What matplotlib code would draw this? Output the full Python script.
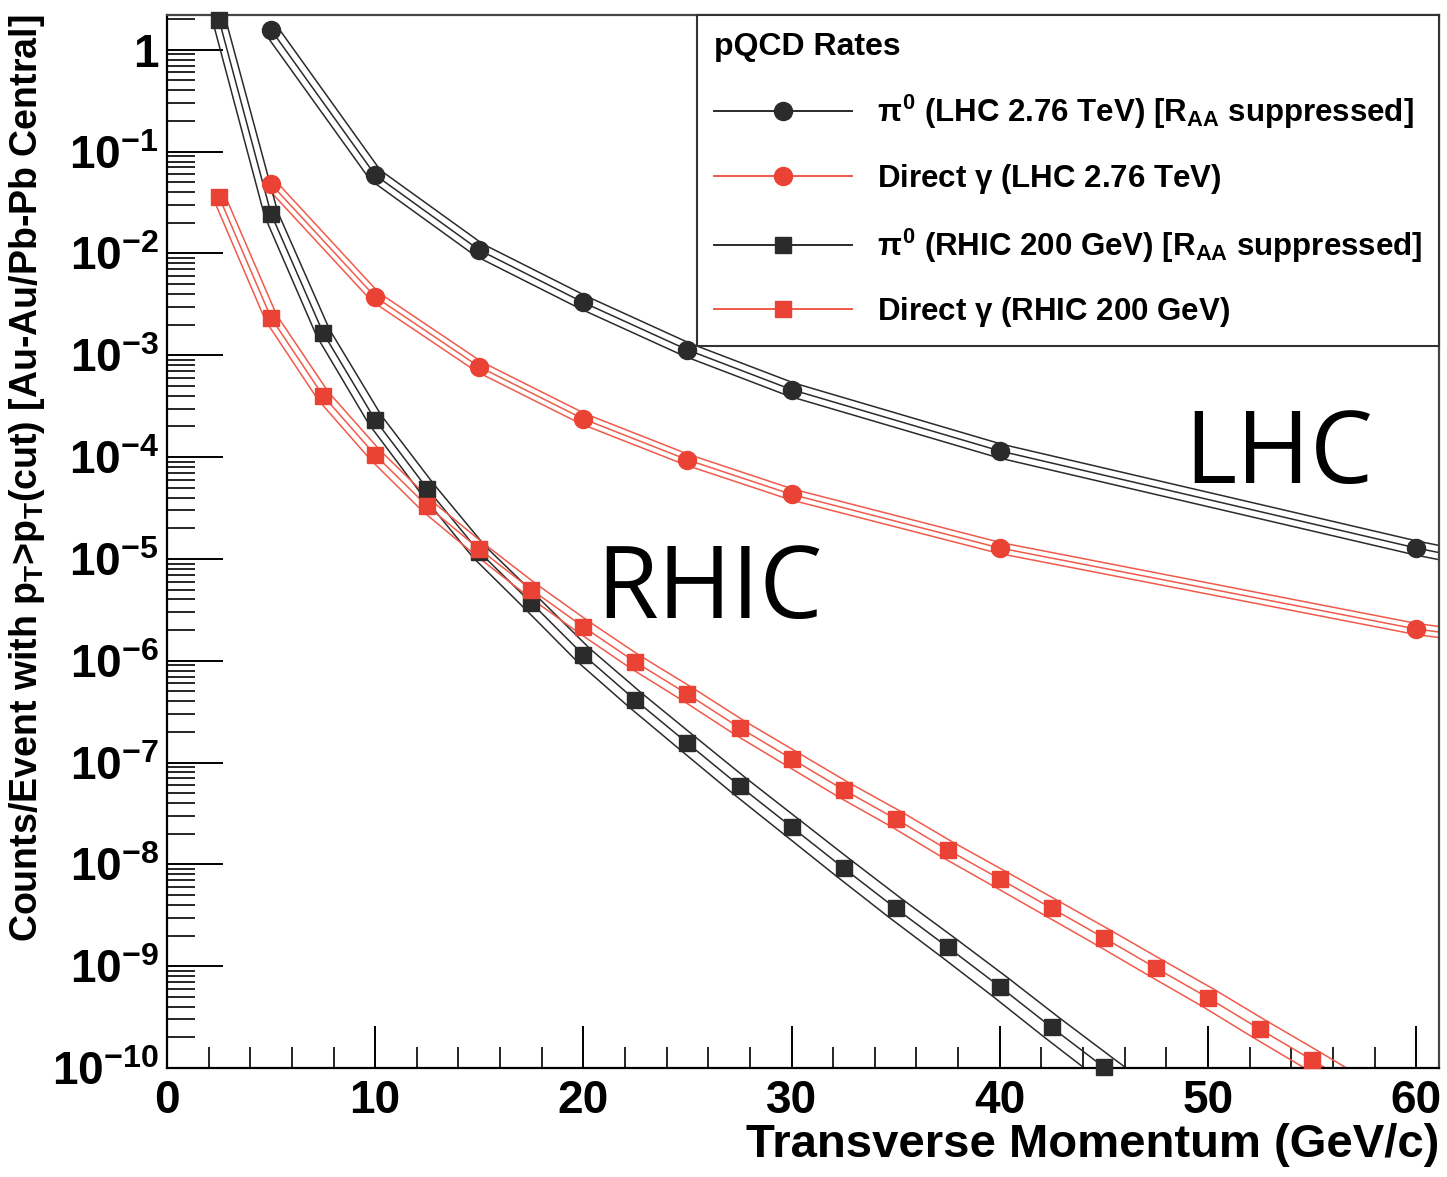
import numpy as np
import matplotlib
matplotlib.use("Agg")
import matplotlib.pyplot as plt
from matplotlib.ticker import FixedLocator, FuncFormatter, MultipleLocator

plt.rcParams['font.family'] = ['Liberation Sans']
plt.rcParams['font.weight'] = 'bold'
plt.rcParams['axes.labelweight'] = 'bold'
plt.rcParams['mathtext.fontset'] = 'custom'
plt.rcParams['mathtext.rm'] = 'Liberation Sans:bold'
plt.rcParams['mathtext.bf'] = 'Liberation Sans:bold'
plt.rcParams['mathtext.it'] = 'Liberation Sans:bold'

# ----- data -----
pt_lhc = [5, 10, 15, 20, 25, 30, 40, 60, 65]
lhc_pi0 = [1.57, 0.059, 0.0108, 3.3e-3, 1.13e-3, 4.6e-4, 1.15e-4, 1.28e-5, 8.0e-6]
lhc_gamma = [0.048, 3.75e-3, 7.7e-4, 2.37e-4, 9.4e-5, 4.3e-5, 1.28e-5, 2.05e-6, 1.5e-6]

pt_rhic_pi0 = [2.5, 5, 7.5, 10, 12.5, 15, 17.5, 20, 22.5, 25, 27.5, 30,
               32.5, 35, 37.5, 40, 42.5, 45, 47.5]
rhic_pi0 = [1.97, 0.0245, 1.66e-3, 2.32e-4, 4.9e-5, 1.17e-5, 3.7e-6, 1.14e-6,
            4.1e-7, 1.55e-7, 5.9e-8, 2.33e-8, 9.2e-9, 3.7e-9, 1.54e-9, 6.3e-10,
            2.5e-10, 1.02e-10, 4.2e-11]

pt_rhic_gamma = [2.5, 5, 7.5, 10, 12.5, 15, 17.5, 20, 22.5, 25, 27.5, 30,
                 32.5, 35, 37.5, 40, 42.5, 45, 47.5, 50, 52.5, 55, 57.5]
rhic_gamma = [0.036, 2.33e-3, 4.0e-4, 1.05e-4, 3.3e-5, 1.25e-5, 5.0e-6, 2.15e-6,
              9.7e-7, 4.7e-7, 2.2e-7, 1.09e-7, 5.4e-8, 2.8e-8, 1.39e-8, 7.2e-9,
              3.7e-9, 1.9e-9, 9.6e-10, 4.9e-10, 2.4e-10, 1.2e-10, 5.9e-11]

labels = [r"$\pi^{0}$ (LHC 2.76 TeV) [R$_{\mathbf{AA}}$ suppressed]",
          r"Direct $\gamma$ (LHC 2.76 TeV)",
          r"$\pi^{0}$ (RHIC 200 GeV) [R$_{\mathbf{AA}}$ suppressed]",
          r"Direct $\gamma$ (RHIC 200 GeV)"]

BLACK = "#2b2b2b"
RED = "#ea4335"
RED_LINE = "#f05a4a"

fig = plt.figure(figsize=(14.47, 11.77), dpi=100)
ax = fig.add_axes([0.1154, 0.0926, 0.8791, 0.8947])
ax.set_yscale("log")
ax.set_xlim(0, 61.1)
ax.set_ylim(1e-10, 2.2)


def band(x, y, d0, d1):
    # offset the curve sideways in screen space (pixels) to draw the band edges
    x = np.asarray(x, float)
    y = np.asarray(y, float)
    pts = ax.transData.transform(np.column_stack([x, y]))
    dx = np.gradient(pts[:, 0])
    dy = np.gradient(pts[:, 1])
    n = np.hypot(dx, dy)
    nrm = np.column_stack([-dy / n, dx / n])
    d = np.linspace(d0, d1, len(x))[:, None]
    inv = ax.transData.inverted()
    return inv.transform(pts + d * nrm), inv.transform(pts - d * nrm)


series = [
    (pt_lhc, lhc_pi0, BLACK, BLACK, "o", 13, 7, 7),
    (pt_lhc, lhc_gamma, RED_LINE, RED, "o", 13, 5.5, 5.5),
    (pt_rhic_pi0, rhic_pi0, BLACK, BLACK, "s", 12, 6.5, 13),
    (pt_rhic_gamma, rhic_gamma, RED_LINE, RED, "s", 12, 6, 11),
]

handles = []
for x, y, lc, mc, mk, ms, d0, d1 in series:
    up, lo = band(x, y, d0, d1)
    ax.plot(up[:, 0], up[:, 1], color=lc, lw=1.1)
    ax.plot(lo[:, 0], lo[:, 1], color=lc, lw=1.1)
    ax.plot(x, y, color=lc, lw=1.1)
    xa = np.asarray(x)
    ya = np.asarray(y)
    keep = (ya >= 0.95e-10) & (xa <= 61)
    ax.plot(xa[keep], ya[keep], ls="none", marker=mk, ms=ms, color=mc,
            clip_on=False, zorder=5)
    h, = ax.plot([], [], color=lc, lw=1.4, marker=mk, ms=ms, mfc=mc, mec=mc)
    handles.append(h)

# axes styling
for s in ax.spines.values():
    s.set_linewidth(1.6)
ax.spines['top'].set_color("#444444")
ax.spines['right'].set_color("#444444")

decades = [10.0 ** k for k in range(-10, 1)]
ax.yaxis.set_major_locator(FixedLocator(decades))
ax.yaxis.set_minor_locator(FixedLocator(
    [m * 10.0 ** k for k in range(-10, 1) for m in range(2, 10)]))


def ylab(v, pos):
    k = int(round(np.log10(v)))
    return "1" if k == 0 else r"10$^{\mathbf{%d}}$" % k


ax.yaxis.set_major_formatter(FuncFormatter(ylab))
ax.xaxis.set_major_locator(MultipleLocator(10))
ax.xaxis.set_minor_locator(MultipleLocator(2))
ax.tick_params(axis="y", which="major", direction="in", length=40, width=1.4,
               labelsize=33, pad=6)
ax.tick_params(axis="y", which="minor", direction="in", length=20, width=1.2)
ax.tick_params(axis="x", which="major", direction="in", length=30, width=1.4,
               labelsize=33, pad=8)
ax.tick_params(axis="x", which="minor", direction="in", length=15, width=1.2)

ax.set_xlabel("Transverse Momentum (GeV/c)", fontsize=34, fontweight="bold",
              loc="right", labelpad=0)
ax.set_ylabel(r"Counts/Event with p$_{\mathbf{T}}$>p$_{\mathbf{T}}$(cut) [Au-Au/Pb-Pb Central]",
              fontsize=27, fontweight="bold", loc="top", labelpad=4)

# big collider labels
ax.text(48.85, 10 ** -4.25, "LHC", fontsize=72, fontweight="normal",
        family="Open Sans", va="baseline", ha="left")
ax.text(20.6, 10 ** -5.58, "RHIC", fontsize=72, fontweight="normal",
        family="Open Sans", va="baseline", ha="left")

leg = ax.legend(handles, labels, title="pQCD Rates", loc="upper left",
                bbox_to_anchor=(0.4167, 0.691, 0.5833, 0.309), mode="expand",
                borderaxespad=0, fontsize=22.5, title_fontsize=23,
                handlelength=4.4, handletextpad=0.8, labelspacing=0.98,
                borderpad=0.55, fancybox=False, framealpha=1, numpoints=1)
leg.get_frame().set_edgecolor("#333333")
leg.get_frame().set_linewidth(1.5)
leg._legend_box.align = "left"

fig.savefig("out.png", dpi=100)
